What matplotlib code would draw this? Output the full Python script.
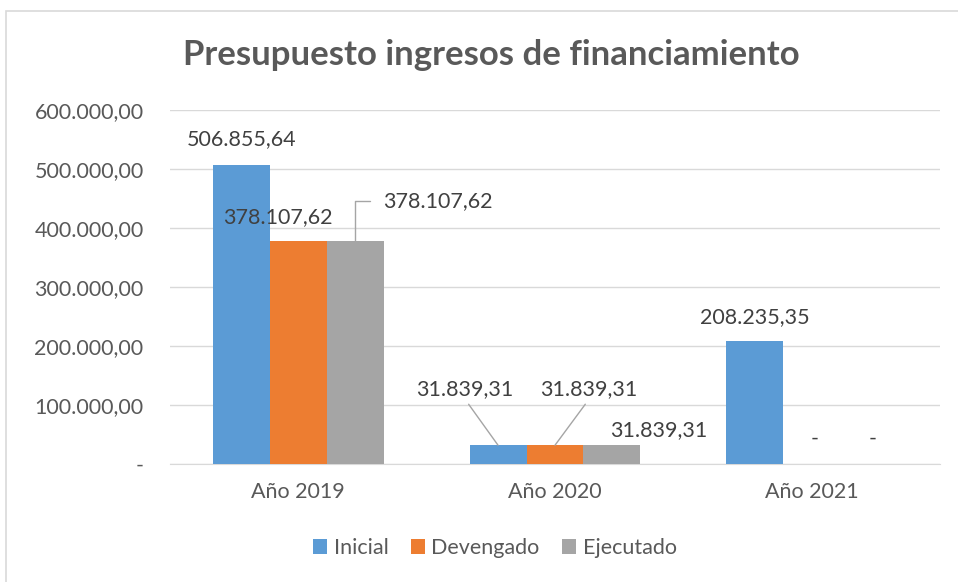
import matplotlib
matplotlib.use("Agg")
import matplotlib.pyplot as plt
import numpy as np
from matplotlib.patches import Rectangle
from matplotlib.ticker import FuncFormatter

# data
years = ["Año 2019", "Año 2020", "Año 2021"]
series = ["Inicial", "Devengado", "Ejecutado"]
inicial = [506855.64, 31839.31, 208235.35]
devengado = [378107.62, 31839.31, 0]
ejecutado = [378107.62, 31839.31, 0]
yticks = [0, 100000, 200000, 300000, 400000, 500000, 600000]

colors = ["#5b9bd5", "#ed7d31", "#a5a5a5"]
txt = "#595959"
lab = "#404040"
fs = 15.5

plt.rcParams["font.family"] = ["Lato", "DejaVu Sans"]


def fmt(v):
    if v == 0:
        return "-"
    s = f"{v:,.2f}"
    return s.replace(",", "X").replace(".", ",").replace("X", ".")


fig = plt.figure(figsize=(9.58, 5.82), dpi=100)
fig.patches.append(Rectangle((6 / 958, -0.01), 1.0, 1 - 11 / 582 + 0.01,
                             transform=fig.transFigure, fill=False,
                             edgecolor="#d9d9d9", linewidth=1.2))
ax = fig.add_axes([170 / 958, 1 - 464 / 582, 770 / 958, 354 / 582])

x = np.arange(len(years))
w = 0.222
data = [inicial, devengado, ejecutado]
bars = []
for i, (vals, c, name) in enumerate(zip(data, colors, series)):
    b = ax.bar(x + (i - 1) * w, vals, w, color=c, label=name, zorder=3)
    bars.append(b)

ax.set_xlim(-0.5, 2.5)
ax.set_ylim(0, 600000)
ax.set_yticks(yticks)
ax.yaxis.set_major_formatter(FuncFormatter(lambda v, p: fmt(v)))
ax.set_xticks(x)
ax.set_xticklabels(years)
ax.grid(axis="y", color="#d9d9d9", linewidth=1, zorder=0)
for s in ["top", "right", "left"]:
    ax.spines[s].set_visible(False)
ax.spines["bottom"].set_color("#d9d9d9")
ax.tick_params(axis="both", length=0, labelsize=fs, colors=txt)
ax.tick_params(axis="y", pad=19)
ax.tick_params(axis="x", pad=13)

# data labels: (series index, year index, dx px, dy px, leader style)
labels = [
    (0, 0, 0, 16, None),
    (1, 0, -20, 14, None),
    (2, 0, 83, 30, "angle"),
    (0, 1, -33, 46, "line"),
    (1, 1, 34, 46, "line"),
    (2, 1, 47, 5, None),
    (0, 2, 0, 14, None),
    (1, 2, 3, 15, None),
    (2, 2, 4, 15, None),
]
for si, yi, dx, dy, lead in labels:
    bar = bars[si][yi]
    bx = bar.get_x() + bar.get_width() / 2
    by = bar.get_height()
    kw = dict(xy=(bx, by), xytext=(dx, dy), textcoords="offset pixels",
              ha="center", va="bottom", fontsize=fs, color=lab, zorder=5)
    if lead == "angle":
        kw["arrowprops"] = dict(arrowstyle="-", color="#a5a5a5", lw=1,
                                connectionstyle="angle,angleA=0,angleB=90,rad=0",
                                relpos=(0, 0.5), shrinkA=8, shrinkB=0)
    elif lead == "line":
        kw["arrowprops"] = dict(arrowstyle="-", color="#a5a5a5", lw=1,
                                relpos=(0.5, 0), shrinkA=2, shrinkB=0)
    ax.annotate(fmt(data[si][yi]), **kw)

fig.text(491 / 958, 1 - 55 / 582, "Presupuesto ingresos de financiamiento",
         ha="center", va="center", fontsize=25, fontweight="bold", color=txt)

fig.legend(loc="center", bbox_to_anchor=(495 / 958, 1 - 548 / 582), ncol=3,
           frameon=False, fontsize=fs, labelcolor=txt, handlelength=0.65,
           handleheight=0.65, handletextpad=0.3, columnspacing=1.05)

fig.savefig("out.png", dpi=100)
